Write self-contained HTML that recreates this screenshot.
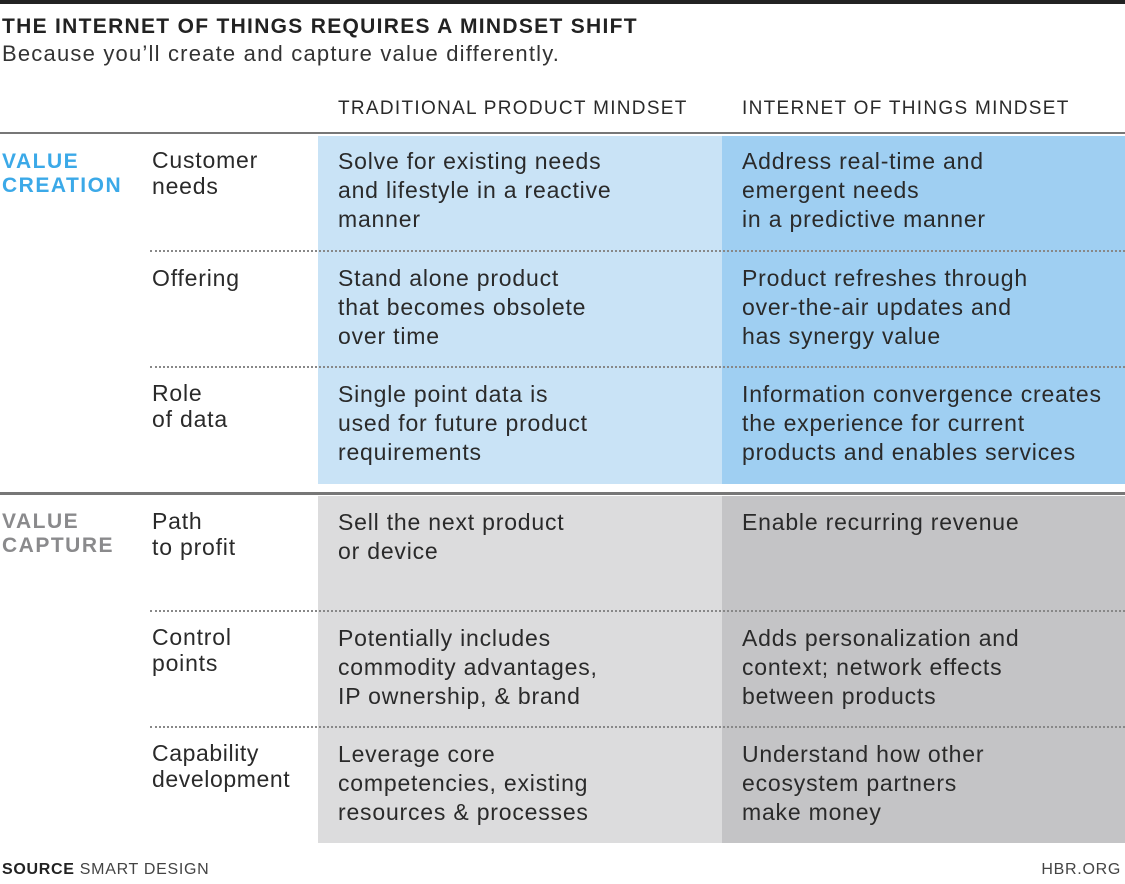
<!DOCTYPE html>
<html><head><meta charset="utf-8"><style>
body{margin:0;width:1125px;height:884px;background:#fff;position:relative;overflow:hidden;font-family:"Liberation Sans",sans-serif;color:#2a2a2a}
.a{position:absolute}
.t{font-size:23px;line-height:29px;white-space:nowrap;letter-spacing:0.8px}
.dot{position:absolute;left:150px;width:975px;height:0;border-top:2px dotted #888}
</style></head><body>
<div class="a" style="left:0;top:0;width:1125px;height:4px;background:#222"></div>
<div class="a" style="left:2px;top:15px;font-size:21px;font-weight:bold;letter-spacing:1.3px;color:#222">THE INTERNET OF THINGS REQUIRES A MINDSET SHIFT</div>
<div class="a" style="left:2px;top:41px;font-size:22px;letter-spacing:1.2px;color:#333">Because you’ll create and capture value differently.</div>
<div class="a t" style="left:338px;top:94px;font-size:19px;letter-spacing:1.3px">TRADITIONAL PRODUCT MINDSET</div>
<div class="a t" style="left:742px;top:94px;font-size:19px;letter-spacing:1.3px">INTERNET OF THINGS MINDSET</div>
<div class="a" style="left:0;top:132px;width:1125px;height:2px;background:#777"></div>
<div class="a" style="left:318px;top:136px;width:404px;height:348px;background:#c9e3f6"></div>
<div class="a" style="left:722px;top:136px;width:403px;height:348px;background:#9fcff2"></div>
<div class="a" style="left:0;top:492px;width:1125px;height:3px;background:#777"></div>
<div class="a" style="left:318px;top:496px;width:404px;height:347px;background:#dcdcdd"></div>
<div class="a" style="left:722px;top:496px;width:403px;height:347px;background:#c4c4c6"></div>
<div class="dot" style="top:250px"></div><div class="dot" style="top:366px"></div>
<div class="dot" style="top:610px"></div><div class="dot" style="top:726px"></div>
<div class="a" style="left:2px;top:150px;font-size:21px;line-height:24px;font-weight:bold;letter-spacing:1.5px;color:#3ba9e8">VALUE<br>CREATION</div>
<div class="a" style="left:2px;top:510px;font-size:21px;line-height:24px;font-weight:bold;letter-spacing:1.5px;color:#8a8a8c">VALUE<br>CAPTURE</div>
<div class="a t" style="left:152px;top:147px;line-height:26px">Customer<br>needs</div>
<div class="a t" style="left:152px;top:264px">Offering</div>
<div class="a t" style="left:152px;top:380px;line-height:26px">Role<br>of data</div>
<div class="a t" style="left:152px;top:508px;line-height:26px">Path<br>to profit</div>
<div class="a t" style="left:152px;top:624px;line-height:26px">Control<br>points</div>
<div class="a t" style="left:152px;top:740px;line-height:26px;letter-spacing:0.6px">Capability<br>development</div>
<div class="a t" style="left:338px;top:147px">Solve for existing needs<br>and lifestyle in a reactive<br>manner</div>
<div class="a t" style="left:742px;top:147px">Address real-time and<br>emergent needs<br>in a predictive manner</div>
<div class="a t" style="left:338px;top:264px">Stand alone product<br>that becomes obsolete<br>over time</div>
<div class="a t" style="left:742px;top:264px">Product refreshes through<br>over-the-air updates and<br>has synergy value</div>
<div class="a t" style="left:338px;top:380px">Single point data is<br>used for future product<br>requirements</div>
<div class="a t" style="left:742px;top:380px">Information convergence creates<br>the experience for current<br>products and enables services</div>
<div class="a t" style="left:338px;top:508px">Sell the next product<br>or device</div>
<div class="a t" style="left:742px;top:508px">Enable recurring revenue</div>
<div class="a t" style="left:338px;top:624px">Potentially includes<br>commodity advantages,<br>IP ownership, &amp; brand</div>
<div class="a t" style="left:742px;top:624px">Adds personalization and<br>context; network effects<br>between products</div>
<div class="a t" style="left:338px;top:740px">Leverage core<br>competencies, existing<br>resources &amp; processes</div>
<div class="a t" style="left:742px;top:740px">Understand how other<br>ecosystem partners<br>make money</div>
<div class="a" style="left:2px;top:861px;font-size:16px;letter-spacing:0.7px;color:#444"><b style="color:#222">SOURCE</b> SMART DESIGN</div>
<div class="a" style="right:4px;top:861px;font-size:16px;letter-spacing:0.7px;color:#444">HBR.ORG</div>
</body></html>
